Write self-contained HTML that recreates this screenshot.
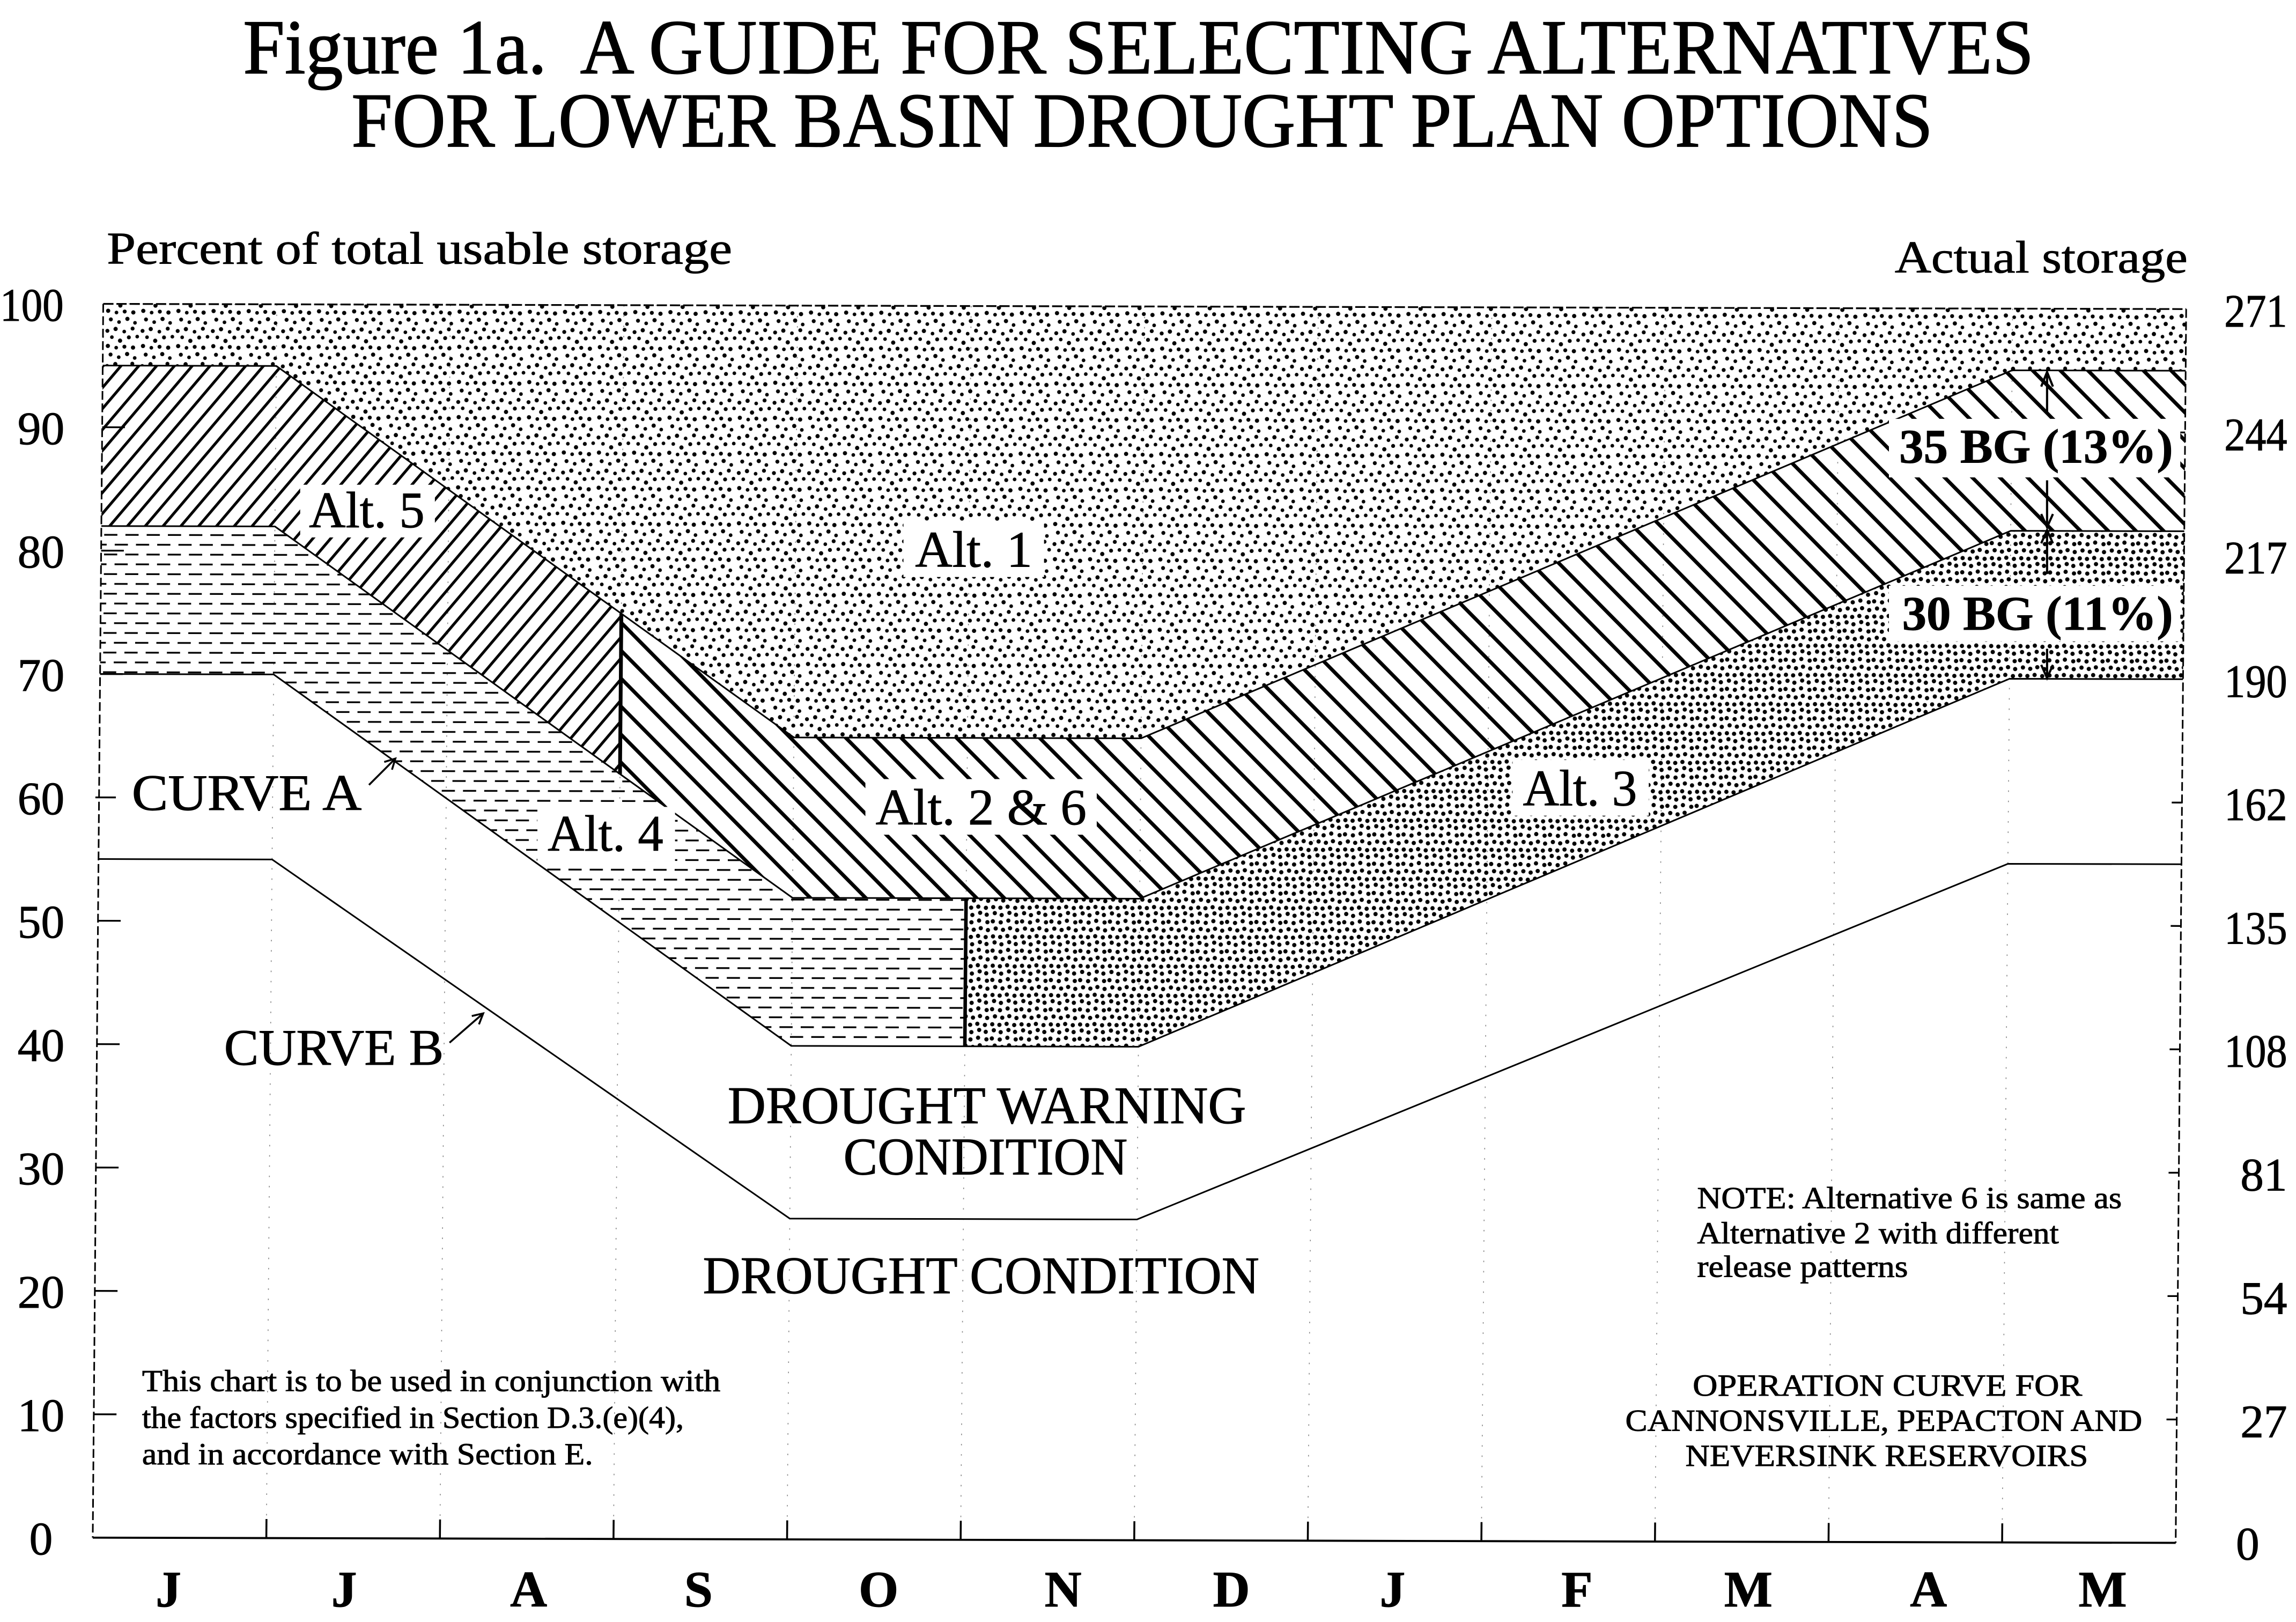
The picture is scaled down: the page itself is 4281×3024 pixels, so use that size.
<!DOCTYPE html>
<html>
<head>
<meta charset="utf-8">
<style>
html,body{margin:0;padding:0;background:#fff;}
svg{display:block;}
text{fill:#000;stroke:#000;stroke-width:0.35;}
</style>
</head>
<body>
<svg xmlns="http://www.w3.org/2000/svg" width="4281" height="3024" viewBox="0 0 1568 1107.6" preserveAspectRatio="none" font-family="'Liberation Serif', 'Times New Roman', serif">
<defs>
  <pattern id="p1" width="24" height="24" patternUnits="userSpaceOnUse">
    <g fill="#000">
      <circle cx="3.8" cy="2.1" r="1.35"/><circle cx="9.4" cy="3.9" r="1.25"/><circle cx="15.1" cy="1.7" r="1.45"/><circle cx="20.3" cy="4.4" r="1.25"/>
      <circle cx="1.5" cy="9.9" r="1.35"/><circle cx="7.1" cy="8.6" r="1.45"/><circle cx="13.0" cy="10.4" r="1.25"/><circle cx="18.7" cy="8.3" r="1.35"/>
      <circle cx="4.6" cy="14.2" r="1.25"/><circle cx="10.2" cy="16.6" r="1.45"/><circle cx="16.2" cy="14.3" r="1.35"/><circle cx="21.9" cy="13.8" r="1.25"/>
      <circle cx="1.9" cy="20.2" r="1.45"/><circle cx="7.6" cy="21.4" r="1.25"/><circle cx="13.2" cy="20.7" r="1.35"/><circle cx="19.1" cy="21.3" r="1.45"/>
    </g>
  </pattern>
  <pattern id="p3" width="20" height="20" patternUnits="userSpaceOnUse">
    <g fill="#000">
      <circle cx="2.9" cy="2.0" r="1.45"/><circle cx="7.6" cy="3.3" r="1.45"/><circle cx="12.9" cy="1.8" r="1.45"/><circle cx="17.4" cy="3.1" r="1.45"/>
      <circle cx="1.6" cy="7.6" r="1.45"/><circle cx="7.0" cy="8.3" r="1.45"/><circle cx="12.2" cy="7.1" r="1.45"/><circle cx="17.9" cy="8.2" r="1.45"/>
      <circle cx="3.6" cy="12.5" r="1.45"/><circle cx="8.6" cy="13.4" r="1.45"/><circle cx="13.4" cy="12.3" r="1.45"/><circle cx="18.3" cy="13.6" r="1.45"/>
      <circle cx="1.8" cy="17.9" r="1.45"/><circle cx="6.7" cy="18.3" r="1.45"/><circle cx="11.6" cy="17.6" r="1.45"/><circle cx="16.8" cy="18.4" r="1.45"/>
    </g>
  </pattern>
  <pattern id="p5" width="9.3" height="20" patternUnits="userSpaceOnUse" patternTransform="rotate(40)">
    <rect x="0" y="0" width="1.9" height="20" fill="#000"/>
  </pattern>
  <pattern id="p26" width="13.4" height="20" patternUnits="userSpaceOnUse" patternTransform="rotate(-45)">
    <rect x="0" y="0" width="2.5" height="20" fill="#000"/>
  </pattern>
  <pattern id="p4" width="14.5" height="13.4" patternUnits="userSpaceOnUse">
    <g fill="#000">
      <rect x="0" y="2.8" width="9" height="1.2"/>
      <rect x="7.25" y="9.5" width="7.25" height="1.2"/>
      <rect x="0" y="9.5" width="1.75" height="1.2"/>
    </g>
  </pattern>
</defs>

<rect x="0" y="0" width="1568" height="1107.6" fill="#fff"/>

<!-- Title -->
<text x="166" y="50" font-size="53" textLength="1223" lengthAdjust="spacingAndGlyphs" style="stroke-width:0.6">Figure 1a.&#160; A GUIDE FOR SELECTING ALTERNATIVES</text>
<text x="240" y="100" font-size="53" textLength="1080" lengthAdjust="spacingAndGlyphs" style="stroke-width:0.6">FOR LOWER BASIN DROUGHT PLAN OPTIONS</text>

<text x="73" y="180" font-size="31" textLength="427" lengthAdjust="spacingAndGlyphs">Percent of total usable storage</text>
<text x="1294" y="186" font-size="31" textLength="200" lengthAdjust="spacingAndGlyphs">Actual storage</text>

<!-- Plot (slightly skewed like the scan) -->
<g transform="matrix(1 0.0025 -0.0085 1 1.764 -0.176)">
  <g stroke="#888" stroke-width="0.6" stroke-dasharray="1 6">
    <line x1="189.04" y1="207.5" x2="189.04" y2="1050"/>
    <line x1="307.58" y1="207.5" x2="307.58" y2="1050"/>
    <line x1="426.13" y1="207.5" x2="426.13" y2="1050"/>
    <line x1="544.67" y1="207.5" x2="544.67" y2="1050"/>
    <line x1="663.21" y1="207.5" x2="663.21" y2="1050"/>
    <line x1="781.75" y1="207.5" x2="781.75" y2="1050"/>
    <line x1="900.29" y1="207.5" x2="900.29" y2="1050"/>
    <line x1="1018.83" y1="207.5" x2="1018.83" y2="1050"/>
    <line x1="1137.38" y1="207.5" x2="1137.38" y2="1050"/>
    <line x1="1255.92" y1="207.5" x2="1255.92" y2="1050"/>
    <line x1="1374.46" y1="207.5" x2="1374.46" y2="1050"/>
  </g>

  <polygon points="70.5,207.5 1493,207.5 1493,249.6 1374.46,249.6 781.75,502.4 544.67,502.4 189.04,249.6 70.5,249.6" fill="url(#p1)"/>
  <polygon points="70.5,249.6 189.04,249.6 426.13,418.14 426.13,527.74 189.04,359.2 70.5,359.2" fill="url(#p5)"/>
  <polygon points="426.13,418.14 544.67,502.4 781.75,502.4 1374.46,249.6 1493,249.6 1493,359.2 1374.46,359.2 781.75,611.9 544.67,611.9 426.13,527.74" fill="url(#p26)"/>
  <polygon points="70.5,359.2 189.04,359.2 544.67,611.9 663.21,611.9 663.21,713 544.67,713 189.04,460.25 70.5,460.25" fill="url(#p4)"/>
  <polygon points="663.21,611.9 781.75,611.9 1374.46,359.2 1493,359.2 1493,460.25 1374.46,460.25 781.75,713 663.21,713" fill="url(#p3)"/>

  <g fill="none" stroke="#000" stroke-width="1.1" stroke-linejoin="round">
    <polyline points="70.5,249.6 189.04,249.6 544.67,502.4 781.75,502.4 1374.46,249.6 1493,249.6"/>
    <polyline points="70.5,359.2 189.04,359.2 544.67,611.9 781.75,611.9 1374.46,359.2 1493,359.2"/>
    <polyline points="70.5,460.25 189.04,460.25 544.67,713 781.75,713 1374.46,460.25 1493,460.25"/>
    <polyline points="70.5,586.6 189.04,586.6 544.67,830.95 781.75,830.95 1374.46,586.6 1493,586.6"/>
  </g>
  <line x1="426.13" y1="418.14" x2="426.13" y2="527.74" stroke="#000" stroke-width="2.6"/>
  <line x1="663.21" y1="611.9" x2="663.21" y2="713" stroke="#000" stroke-width="2.4"/>

  <line x1="70.5" y1="207.5" x2="1493" y2="207.5" stroke="#000" stroke-width="1.2" stroke-dasharray="7 2"/>
  <line x1="70.5" y1="207.5" x2="70.5" y2="1050" stroke="#000" stroke-width="1.1" stroke-dasharray="6 2.5"/>
  <line x1="1493" y1="207.5" x2="1493" y2="1050" stroke="#000" stroke-width="1.1" stroke-dasharray="6 2.5"/>
  <line x1="70.5" y1="1050" x2="1493" y2="1050" stroke="#000" stroke-width="1.4"/>
  <g stroke="#000" stroke-width="1.3">
    <line x1="189.04" y1="1037" x2="189.04" y2="1050"/>
    <line x1="307.58" y1="1037" x2="307.58" y2="1050"/>
    <line x1="426.13" y1="1037" x2="426.13" y2="1050"/>
    <line x1="544.67" y1="1037" x2="544.67" y2="1050"/>
    <line x1="663.21" y1="1037" x2="663.21" y2="1050"/>
    <line x1="781.75" y1="1037" x2="781.75" y2="1050"/>
    <line x1="900.29" y1="1037" x2="900.29" y2="1050"/>
    <line x1="1018.83" y1="1037" x2="1018.83" y2="1050"/>
    <line x1="1137.38" y1="1037" x2="1137.38" y2="1050"/>
    <line x1="1255.92" y1="1037" x2="1255.92" y2="1050"/>
    <line x1="1374.46" y1="1037" x2="1374.46" y2="1050"/>
  </g>
  <g stroke="#000" stroke-width="1.2">
    <line x1="70.5" y1="291.75" x2="86" y2="291.75"/>
    <line x1="70.5" y1="376" x2="86" y2="376"/>
    <line x1="70.5" y1="460.25" x2="86" y2="460.25"/>
    <line x1="68" y1="544.5" x2="82" y2="544.5"/>
    <line x1="70.5" y1="628.75" x2="86" y2="628.75"/>
    <line x1="70.5" y1="713" x2="86" y2="713"/>
    <line x1="70.5" y1="797.25" x2="86" y2="797.25"/>
    <line x1="70.5" y1="881.5" x2="86" y2="881.5"/>
    <line x1="70.5" y1="965.75" x2="86" y2="965.75"/>
    <line x1="1486" y1="291.75" x2="1493" y2="291.75"/>
    <line x1="1486" y1="544.5" x2="1493" y2="544.5"/>
    <line x1="1486" y1="628.75" x2="1493" y2="628.75"/>
    <line x1="1486" y1="713" x2="1493" y2="713"/>
    <line x1="1486" y1="797.25" x2="1493" y2="797.25"/>
    <line x1="1486" y1="881.5" x2="1493" y2="881.5"/>
    <line x1="1486" y1="965.75" x2="1493" y2="965.75"/>
  </g>
</g>

<g fill="#fff">
  <rect x="205" y="331" width="92" height="36"/>
  <rect x="617" y="356" width="96" height="38"/>
  <rect x="591" y="532" width="158" height="38"/>
  <rect x="367" y="551" width="94" height="37"/>
  <rect x="1033" y="519" width="93" height="38"/>
  <rect x="1290" y="286" width="199" height="40"/>
  <rect x="1290" y="400" width="199" height="38"/>
</g>
<g font-size="35">
  <text x="211" y="360" textLength="79" lengthAdjust="spacingAndGlyphs">Alt. 5</text>
  <text x="625" y="387" textLength="80" lengthAdjust="spacingAndGlyphs">Alt. 1</text>
  <text x="598" y="563" textLength="144" lengthAdjust="spacingAndGlyphs">Alt. 2 &amp; 6</text>
  <text x="374" y="581" textLength="79" lengthAdjust="spacingAndGlyphs">Alt. 4</text>
  <text x="1040" y="550" textLength="78" lengthAdjust="spacingAndGlyphs">Alt. 3</text>
</g>
<g font-size="33" font-weight="bold">
  <text x="1297" y="316" textLength="187" lengthAdjust="spacingAndGlyphs">35 BG (13%)</text>
  <text x="1299" y="430" textLength="185" lengthAdjust="spacingAndGlyphs">30 BG (11%)</text>
</g>

<g stroke="#000" stroke-width="1.5" fill="none">
  <line x1="1398" y1="283" x2="1398" y2="256"/>
  <polyline points="1394,264 1398,254 1402,264"/>
  <line x1="1398" y1="328" x2="1398" y2="358"/>
  <polyline points="1394,351 1398,360 1402,351"/>
  <line x1="1398" y1="392" x2="1398" y2="364"/>
  <polyline points="1394,371 1398,362 1402,371"/>
  <line x1="1398" y1="443" x2="1398" y2="461"/>
  <polyline points="1394,454 1398,463 1402,454"/>
</g>

<text x="90" y="553" font-size="35" textLength="157" lengthAdjust="spacingAndGlyphs">CURVE A</text>
<text x="153" y="727" font-size="35" textLength="150" lengthAdjust="spacingAndGlyphs">CURVE B</text>
<g stroke="#000" stroke-width="1.3" fill="none">
  <line x1="252" y1="536" x2="270" y2="518"/>
  <polyline points="267.7,525.6 270,518 262.4,520.3"/>
  <line x1="307" y1="712" x2="330" y2="692"/>
  <polyline points="327.1,699.5 330,692 322.2,693.8"/>
</g>

<text x="497" y="767" font-size="36" textLength="354" lengthAdjust="spacingAndGlyphs">DROUGHT WARNING</text>
<text x="576" y="802" font-size="36" textLength="194" lengthAdjust="spacingAndGlyphs">CONDITION</text>
<text x="480" y="883" font-size="36" textLength="380" lengthAdjust="spacingAndGlyphs">DROUGHT CONDITION</text>

<g font-size="21">
  <text x="97" y="950" textLength="395" lengthAdjust="spacingAndGlyphs">This chart is to be used in conjunction with</text>
  <text x="97" y="975" textLength="370" lengthAdjust="spacingAndGlyphs">the factors specified in Section D.3.(e)(4),</text>
  <text x="97" y="1000" textLength="308" lengthAdjust="spacingAndGlyphs">and in accordance with Section E.</text>

  <text x="1159" y="825" textLength="290" lengthAdjust="spacingAndGlyphs">NOTE: Alternative 6 is same as</text>
  <text x="1159" y="849" textLength="247" lengthAdjust="spacingAndGlyphs">Alternative 2 with different</text>
  <text x="1159" y="872" textLength="144" lengthAdjust="spacingAndGlyphs">release patterns</text>

  <text x="1156" y="953" textLength="266" lengthAdjust="spacingAndGlyphs">OPERATION CURVE FOR</text>
  <text x="1110" y="977" textLength="353" lengthAdjust="spacingAndGlyphs">CANNONSVILLE, PEPACTON AND</text>
  <text x="1151" y="1001" textLength="275" lengthAdjust="spacingAndGlyphs">NEVERSINK RESERVOIRS</text>
</g>

<g font-size="32">
  <text x="0" y="219" textLength="43.5" lengthAdjust="spacingAndGlyphs">100</text>
  <text x="44" y="303.3" text-anchor="end">90</text>
  <text x="44" y="387.5" text-anchor="end">80</text>
  <text x="44" y="471.8" text-anchor="end">70</text>
  <text x="44" y="556" text-anchor="end">60</text>
  <text x="44" y="640.3" text-anchor="end">50</text>
  <text x="44" y="724.5" text-anchor="end">40</text>
  <text x="44" y="808.8" text-anchor="end">30</text>
  <text x="44" y="893" text-anchor="end">20</text>
  <text x="44" y="977.3" text-anchor="end">10</text>
  <text x="28" y="1061.5" text-anchor="middle">0</text>
</g>

<g font-size="32">
  <text x="1519" y="223" textLength="43" lengthAdjust="spacingAndGlyphs">271</text>
  <text x="1519" y="307.4" textLength="43" lengthAdjust="spacingAndGlyphs">244</text>
  <text x="1519" y="391.6" textLength="43" lengthAdjust="spacingAndGlyphs">217</text>
  <text x="1519" y="475.9" textLength="43" lengthAdjust="spacingAndGlyphs">190</text>
  <text x="1519" y="560.1" textLength="43" lengthAdjust="spacingAndGlyphs">162</text>
  <text x="1519" y="644.4" textLength="43" lengthAdjust="spacingAndGlyphs">135</text>
  <text x="1519" y="728.6" textLength="43" lengthAdjust="spacingAndGlyphs">108</text>
  <text x="1562" y="812.9" text-anchor="end">81</text>
  <text x="1562" y="897.1" text-anchor="end">54</text>
  <text x="1562" y="981.4" text-anchor="end">27</text>
  <text x="1535" y="1065" text-anchor="middle">0</text>
</g>

<g font-size="35" font-weight="bold" text-anchor="middle">
  <text x="115" y="1097">J</text>
  <text x="235" y="1097">J</text>
  <text x="361" y="1097">A</text>
  <text x="477" y="1097">S</text>
  <text x="600" y="1097">O</text>
  <text x="726" y="1097">N</text>
  <text x="841" y="1097">D</text>
  <text x="951" y="1097">J</text>
  <text x="1077" y="1097">F</text>
  <text x="1194" y="1097">M</text>
  <text x="1317" y="1097">A</text>
  <text x="1436" y="1097">M</text>
</g>
</svg>
</body>
</html>
